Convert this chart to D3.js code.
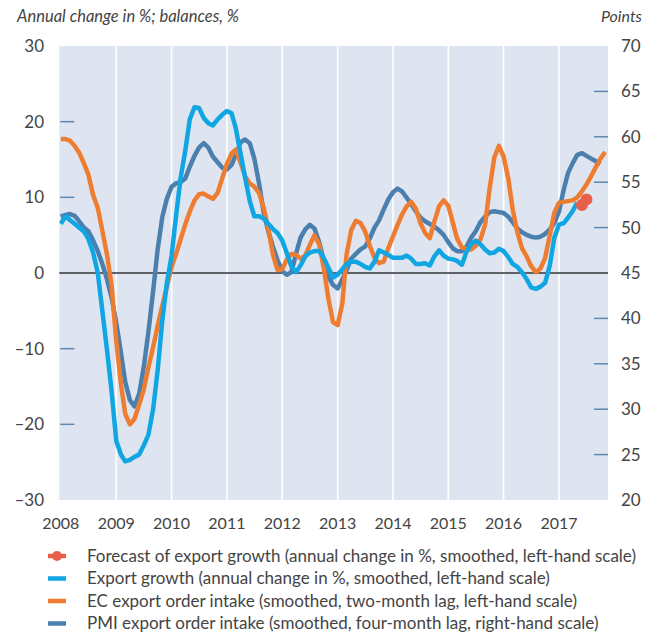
<!DOCTYPE html>
<html>
<head>
<meta charset="utf-8">
<script src="https://cdn.jsdelivr.net/npm/d3@7"></script>
<style>
  body { margin: 0; background: #fff; }
  svg text { font-family: Lato, "Open Sans", sans-serif; fill: #444; }
</style>
</head>
<body>
<svg id="chart" width="656" height="634"></svg>
<script>
// monthly data, starting January 2008
const startYear = 2008;

// export growth, annual change in %, smoothed (left scale)
const exportGrowth = [
  6.5, 7.5, 7.0, 6.5, 6.0, 5.5, 4.5, 2.7, 0.0, -5.0, -10.2, -15.6,
  -22.2, -24.0, -24.9, -24.7, -24.3, -24.0, -22.8, -21.4, -18.0, -12.9, -6.2, -1.3,
  2.3, 7.8, 12.5, 16.1, 20.3, 21.9, 21.8, 20.5, 19.8, 19.5, 20.3, 20.9,
  21.4, 21.1, 19.1, 15.8, 12.6, 9.5, 7.5, 7.5, 7.2, 6.5, 5.8, 5.3,
  4.3, 2.6, 0.9, 0.1, 1.0, 2.2, 2.7, 2.9, 2.9, 2.0, 0.7, -0.6,
  -0.2, 0.5, 1.2, 1.5, 1.5, 1.2, 0.8, 0.6, 1.5, 3.0, 2.7, 2.4,
  2.0, 2.0, 2.0, 2.3, 1.9, 1.2, 1.2, 1.3, 1.0, 2.2, 3.0, 2.3,
  1.9, 1.8, 1.6, 1.1, 2.8, 3.8, 4.3, 3.8, 3.1, 2.6, 2.7, 3.2,
  2.9, 2.1, 1.2, 0.8, 0.1, -0.8, -1.9, -2.1, -1.8, -1.3, 1.0, 4.7,
  6.4, 6.6, 7.3, 8.2, 9.3
];

// forecast of export growth (month index, value)
const forecastMonths = [112, 113, 114];
const forecastValues = [9.3, 9.0, 9.7];
const forecastDots = [113, 114];

// EC export order intake, smoothed, two-month lag (left scale)
const ecOrders = [
  17.7, 17.7, 17.5, 16.8, 15.9, 14.5, 13.0, 10.3, 8.6, 5.6, 2.4, -1.6,
  -9.0, -14.7, -18.6, -20.0, -19.3, -17.4, -15.4, -12.5, -9.8, -7.0, -4.3, -1.8,
  0.8, 2.6, 4.4, 6.4, 8.1, 9.6, 10.4, 10.5, 10.1, 9.8, 10.6, 12.5,
  14.4, 15.8, 16.3, 14.6, 12.8, 11.8, 11.4, 10.6, 8.6, 5.9, 2.4, 0.4,
  0.5, 1.8, 2.5, 2.4, 1.9, 2.3, 3.7, 5.0, 3.8, 0.7, -3.4, -6.5,
  -6.9, -4.0, 2.5, 5.7, 6.9, 6.6, 5.5, 3.6, 2.0, 1.3, 1.5, 3.3,
  4.8, 6.4, 7.7, 8.8, 9.4, 8.5, 6.6, 5.3, 4.6, 6.8, 8.8, 9.6,
  8.9, 6.6, 4.5, 3.4, 3.2, 3.1, 3.6, 4.4, 6.4, 11.2, 15.3, 16.8,
  15.4, 12.5, 8.4, 5.4, 3.3, 2.2, 0.9, 0.1, 0.6, 2.0, 5.0, 8.0,
  9.3, 9.4, 9.5, 9.6, 10.0, 10.8, 11.7, 12.8, 14.0, 15.1, 16.0
];

// PMI export order intake, smoothed, four-month lag (right scale, points)
const pmiOrders = [
  51.2, 51.4, 51.5, 51.3, 50.7, 50.0, 49.6, 48.6, 47.4, 46.0, 44.3, 42.3,
  39.5, 36.2, 33.0, 31.0, 30.3, 31.7, 34.6, 38.5, 43.0, 47.6, 51.2, 53.2,
  54.5, 54.9, 55.0, 55.4, 56.7, 57.9, 58.8, 59.3, 58.8, 57.8, 57.2, 56.6,
  56.4, 56.9, 58.0, 59.4, 59.7, 59.3, 57.6, 54.9, 51.6, 49.6, 47.9, 46.4,
  45.2, 44.8, 45.1, 47.1, 48.9, 49.8, 50.3, 49.9, 48.4, 46.4, 44.6, 43.7,
  43.3, 44.3, 45.3, 46.6, 47.1, 47.6, 47.9, 48.8, 50.0, 50.8, 52.0, 53.1,
  53.9, 54.3, 54.0, 53.3, 52.6, 51.8, 51.1, 50.7, 50.4, 50.1, 49.7, 49.2,
  48.4, 47.7, 47.4, 47.4, 47.9, 48.9, 49.6, 50.6, 51.2, 51.7, 51.8, 51.7,
  51.6, 51.2, 50.6, 49.9, 49.5, 49.2, 49.0, 48.9, 49.0, 49.3, 49.8, 50.5,
  51.8, 54.2, 56.0, 57.1, 58.0, 58.2, 57.9, 57.6, 57.3, 57.0
];

const yearTicks = [2008, 2009, 2010, 2011, 2012, 2013, 2014, 2015, 2016, 2017];
const leftTicks = [30, 20, 10, 0, -10, -20, -30];
const rightTicks = [70, 65, 60, 55, 50, 45, 40, 35, 30, 25, 20];
const leftMarks = [20, 10, -10, -20];
const rightMarks = [65, 60, 55, 50, 40, 35, 30, 25];

const legendItems = [
  { label: "Forecast of export growth (annual change in %, smoothed, left-hand scale)", color: "#e8604c", dot: true },
  { label: "Export growth (annual change in %, smoothed, left-hand scale)", color: "#10a5e3" },
  { label: "EC export order intake (smoothed, two-month lag, left-hand scale)", color: "#ee7d31" },
  { label: "PMI export order intake (smoothed, four-month lag, right-hand scale)", color: "#4a7fae" }
];

const svg = d3.select("#chart");
const plot = { left: 59.3, right: 608, top: 46, bottom: 500 };

const monthDate = i => new Date(startYear, i, 1);

const x = d3.scaleTime()
  .domain([new Date(2007, 11, 22), new Date(2017, 10, 20)])
  .range([plot.left, plot.right]);
const yL = d3.scaleLinear().domain([-30, 30]).range([plot.bottom, plot.top]);
const yR = d3.scaleLinear().domain([20, 70]).range([plot.bottom, plot.top]);

// background panel
svg.append("rect")
  .attr("x", plot.left).attr("y", plot.top)
  .attr("width", plot.right - plot.left).attr("height", plot.bottom - plot.top)
  .attr("fill", "#dfe5f0");

svg.append("clipPath").attr("id", "clip")
  .append("rect")
  .attr("x", plot.left).attr("y", plot.top)
  .attr("width", plot.right - plot.left).attr("height", plot.bottom - plot.top);

// vertical year gridlines
svg.append("g")
  .selectAll("line")
  .data(yearTicks.slice(1))
  .enter().append("line")
    .attr("x1", d => x(new Date(d, 0, 1))).attr("x2", d => x(new Date(d, 0, 1)))
    .attr("y1", plot.top).attr("y2", plot.bottom)
    .attr("stroke", "#fff").attr("stroke-width", 1.6);

// small tick marks inside the panel
svg.append("g")
  .selectAll("line")
  .data(leftMarks)
  .enter().append("line")
    .attr("x1", plot.left + 1).attr("x2", plot.left + 15)
    .attr("y1", d => yL(d)).attr("y2", d => yL(d))
    .attr("stroke", "#5b87b5").attr("stroke-width", 1.5);

svg.append("g")
  .selectAll("line")
  .data(rightMarks)
  .enter().append("line")
    .attr("x1", plot.right - 14).attr("x2", plot.right)
    .attr("y1", d => yR(d)).attr("y2", d => yR(d))
    .attr("stroke", "#5b87b5").attr("stroke-width", 1.5);

// zero line
svg.append("line")
  .attr("x1", plot.left).attr("x2", plot.right)
  .attr("y1", yL(0)).attr("y2", yL(0))
  .attr("stroke", "#5f6167").attr("stroke-width", 2);

// axes labels
const fmt = d => d < 0 ? "\u2013" + Math.abs(d) : String(d);

svg.append("g")
  .selectAll("text")
  .data(leftTicks)
  .enter().append("text")
    .attr("x", 44).attr("y", d => yL(d))
    .attr("dy", "0.35em")
    .attr("text-anchor", "end")
    .style("font-size", "17px")
    .text(fmt);

svg.append("g")
  .selectAll("text")
  .data(rightTicks)
  .enter().append("text")
    .attr("x", 621).attr("y", d => yR(d))
    .attr("dy", "0.35em")
    .style("font-size", "17px")
    .text(d => d);

svg.append("g")
  .selectAll("text")
  .data(yearTicks)
  .enter().append("text")
    .attr("x", d => x(new Date(d, 0, 1)))
    .attr("y", 523)
    .attr("dy", "0.35em")
    .attr("text-anchor", "middle")
    .style("font-size", "16px")
    .text(d => d);

svg.append("text")
  .attr("x", 17).attr("y", 22)
  .style("font-size", "16.5px").style("font-style", "italic")
  .text("Annual change in %; balances, %");

svg.append("text")
  .attr("x", 642).attr("y", 22)
  .attr("text-anchor", "end")
  .style("font-size", "16px").style("font-style", "italic")
  .text("Points");

// series lines
const lines = svg.append("g").attr("clip-path", "url(#clip)");

const lineL = d3.line().x((d, i) => x(monthDate(i))).y(d => yL(d));
const lineR = d3.line().x((d, i) => x(monthDate(i))).y(d => yR(d));

lines.append("path").datum(pmiOrders)
  .attr("d", lineR)
  .attr("fill", "none").attr("stroke", "#4a7fae").attr("stroke-width", 4.5)
  .attr("stroke-linejoin", "round");

lines.append("path").datum(ecOrders)
  .attr("d", lineL)
  .attr("fill", "none").attr("stroke", "#ee7d31").attr("stroke-width", 4.5)
  .attr("stroke-linejoin", "round");

lines.append("path").datum(exportGrowth)
  .attr("d", lineL)
  .attr("fill", "none").attr("stroke", "#10a5e3").attr("stroke-width", 4.5)
  .attr("stroke-linejoin", "round");

const forecast = forecastMonths.map((m, i) => ({ m: m, v: forecastValues[i] }));
lines.append("path").datum(forecast)
  .attr("d", d3.line().x(d => x(monthDate(d.m))).y(d => yL(d.v)))
  .attr("fill", "none").attr("stroke", "#e8604c").attr("stroke-width", 4.5);

lines.selectAll(".fc-dot")
  .data(forecast.filter(d => forecastDots.includes(d.m)))
  .enter().append("circle")
    .attr("class", "fc-dot")
    .attr("cx", d => x(monthDate(d.m)))
    .attr("cy", d => yL(d.v))
    .attr("r", 6)
    .attr("fill", "#e8604c");

// legend
const legend = svg.append("g")
  .selectAll("g")
  .data(legendItems)
  .enter().append("g")
    .attr("transform", (d, i) => `translate(0,${556 + i * 22.5})`);

legend.append("line")
  .attr("x1", 48).attr("x2", 66)
  .attr("stroke", d => d.color).attr("stroke-width", 4.5);

legend.filter(d => d.dot).append("circle")
  .attr("cx", 57).attr("r", 5).attr("fill", d => d.color);

legend.append("text")
  .attr("x", 87).attr("dy", "0.35em")
  .style("font-size", "17px")
  .text(d => d.label);
</script>
</body>
</html>
